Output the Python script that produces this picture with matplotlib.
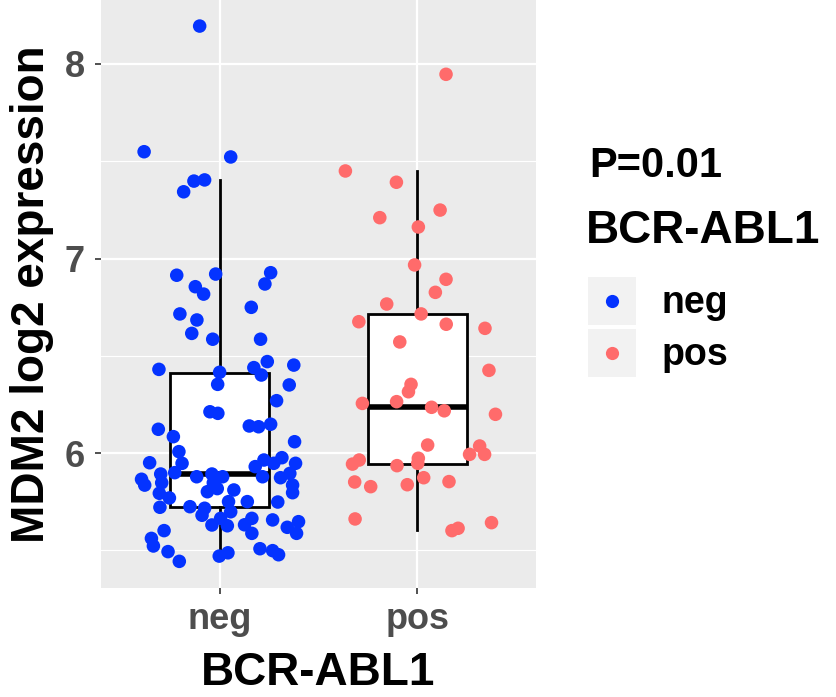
import matplotlib
matplotlib.use("Agg")
import matplotlib.pyplot as plt
from matplotlib.lines import Line2D
from matplotlib.patches import Rectangle

plt.rcParams['font.family'] = ['Liberation Sans', 'DejaVu Sans']

categories = ["neg", "pos"]
colors = {"neg": "#0433FF", "pos": "#FF6B6B"}

# jittered points: horizontal jitter offset and expression value
neg_dx = [-0.101, -0.382, 0.056, -0.130, -0.076, -0.182, -0.217, -0.020, 0.258, 0.229,
          -0.123, -0.081, 0.160, -0.201, -0.115, -0.141, -0.035, 0.207, -0.307, 0.000,
          -0.010, 0.173, 0.241, 0.375, 0.211, 0.352, 0.288, -0.049, -0.009, 0.150,
          0.197, 0.258, -0.310, -0.234, 0.379, -0.206, -0.354, -0.190, 0.224, 0.315,
          0.274, 0.384, 0.180, -0.298, -0.227, -0.116, -0.039, 0.015, 0.217, 0.308,
          0.355, -0.395, -0.379, -0.293, 0.369, -0.032, -0.305, -0.254, -0.062, -0.012,
          0.072, 0.369, -0.302, -0.150, -0.076, 0.045, 0.140, 0.294, -0.089, 0.056,
          0.005, 0.126, 0.163, 0.163, -0.039, 0.039, 0.268, 0.342, 0.399, 0.389,
          -0.281, -0.345, -0.335, -0.261, -0.204, -0.002, 0.042, 0.204, 0.268, 0.298]
neg_y = [8.195, 7.549, 7.522, 7.398, 7.404, 7.343, 6.914, 6.920, 6.927, 6.869,
         6.855, 6.817, 6.749, 6.715, 6.684, 6.615, 6.585, 6.585, 6.430, 6.415,
         6.353, 6.439, 6.470, 6.452, 6.401, 6.350, 6.269, 6.212, 6.204, 6.139,
         6.135, 6.148, 6.122, 6.084, 6.058, 6.007, 5.950, 5.947, 5.964, 5.976,
         5.947, 5.947, 5.930, 5.892, 5.899, 5.878, 5.892, 5.878, 5.878, 5.873,
         5.895, 5.865, 5.835, 5.847, 5.835, 5.847, 5.793, 5.769, 5.801, 5.817,
         5.810, 5.796, 5.721, 5.724, 5.716, 5.750, 5.750, 5.748, 5.680, 5.698,
         5.664, 5.631, 5.664, 5.587, 5.630, 5.626, 5.656, 5.618, 5.647, 5.587,
         5.601, 5.561, 5.522, 5.493, 5.443, 5.470, 5.487, 5.508, 5.498, 5.477]
pos_dx = [0.145, -0.364, -0.106, 0.115, -0.190, 0.005, -0.014, 0.145, 0.091, -0.155,
          -0.296, 0.019, 0.146, 0.342, -0.089, 0.362, -0.032, -0.045, -0.278, -0.105,
          0.072, 0.136, 0.395, 0.052, 0.315, 0.340, 0.264, -0.294, -0.328, 0.005,
          0.002, -0.103, 0.032, 0.160, -0.317, -0.236, -0.051, -0.315, 0.375, 0.175,
          0.206]
pos_y = [7.947, 7.450, 7.392, 7.249, 7.210, 7.162, 6.967, 6.893, 6.826, 6.766,
         6.675, 6.715, 6.662, 6.641, 6.571, 6.425, 6.353, 6.315, 6.255, 6.264,
         6.235, 6.217, 6.199, 6.041, 6.036, 5.993, 5.993, 5.964, 5.943, 5.973,
         5.947, 5.935, 5.873, 5.853, 5.851, 5.827, 5.837, 5.661, 5.642, 5.601,
         5.613]

# box statistics
box_whislo = [5.465, 5.604]
box_q1 = [5.722, 5.943]
box_med = [5.892, 6.237]
box_q3 = [6.411, 6.715]
box_whishi = [7.404, 7.450]

yticks = [6, 7, 8]
yminor = [5.5, 6.5, 7.5]
p_label = "P=0.01"

fig = plt.figure(figsize=(8.36, 6.97), dpi=100)
ax = fig.add_axes([101/836, 1-588/697, 435/836, 588/697])
ax.set_facecolor("#EBEBEB")
for s in ax.spines.values():
    s.set_visible(False)

ax.set_xlim(0.4, 2.6)
ax.set_ylim(5.306, 8.329)
ax.set_yticks(yticks)
ax.set_yticks(yminor, minor=True)
ax.set_xticks([1, 2])
ax.set_xticklabels(categories)
ax.grid(True, which="major", color="white", linewidth=1.6, zorder=0)
ax.grid(True, which="minor", axis="y", color="white", linewidth=0.8, zorder=0)
ax.set_axisbelow(True)
ax.tick_params(axis="both", which="major", length=4, width=1.2, color="#333333",
               labelsize=26, labelcolor="#4D4D4D")
ax.tick_params(axis="y", which="major", pad=7.5)
ax.tick_params(axis="x", which="major", pad=6)
ax.tick_params(axis="both", which="minor", length=0)
for lab in ax.get_xticklabels() + ax.get_yticklabels():
    lab.set_fontweight("bold")

stats = []
for i, c in enumerate(categories):
    stats.append(dict(whislo=box_whislo[i], q1=box_q1[i], med=box_med[i],
                      q3=box_q3[i], whishi=box_whishi[i], fliers=[], label=c))
ax.bxp(stats, positions=[1, 2], widths=0.5, showfliers=False, showcaps=False,
       patch_artist=True,
       boxprops=dict(facecolor="white", edgecolor="black", linewidth=2.0),
       medianprops=dict(color="black", linewidth=4.0, solid_capstyle="butt"),
       whiskerprops=dict(color="black", linewidth=2.0),
       manage_ticks=False, zorder=2)

ax.scatter([1 + d for d in neg_dx], neg_y, s=95, color=colors["neg"],
           edgecolors="none", zorder=3)
ax.scatter([2 + d for d in pos_dx], pos_y, s=95, color=colors["pos"],
           edgecolors="none", zorder=3)

ax.set_xlabel("BCR-ABL1", fontsize=33, fontweight="bold", labelpad=10)
ax.set_ylabel("MDM2 log2 expression", fontsize=33, fontweight="bold", labelpad=8)

# legend
fig.text(589/836, 1-166/697, p_label, fontsize=30, fontweight="bold",
         ha="left", va="center")
fig.text(586/836, 1-231/697, "BCR-ABL1", fontsize=33, fontweight="bold",
         ha="left", va="center")
key_y = [301, 353]
for i, c in enumerate(categories):
    fig.patches.append(Rectangle((588/836, 1-(key_y[i]+24)/697), 48/836, 48/697,
                                 transform=fig.transFigure, facecolor="#F2F2F2",
                                 edgecolor="none"))
    fig.lines.append(Line2D([612/836], [1-key_y[i]/697], transform=fig.transFigure,
                            marker="o", markersize=9.5, color=colors[c],
                            markeredgecolor="none", linestyle="none"))
    fig.text(662/836, 1-(key_y[i]+2)/697, c, fontsize=27, fontweight="bold",
             ha="left", va="center")

fig.savefig("out.png", dpi=100)
